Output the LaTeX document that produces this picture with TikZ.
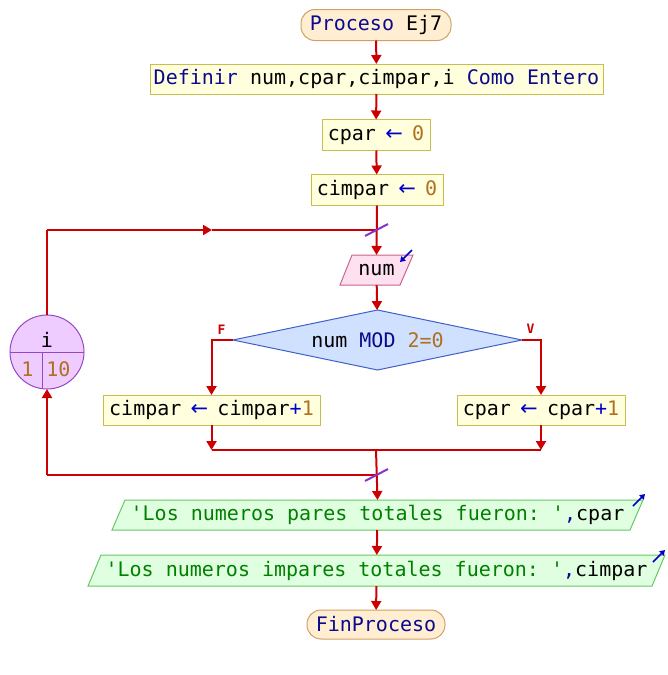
\documentclass[tikz,border=0pt]{standalone}
\usepackage{fontspec}
\setmonofont{DejaVu Sans Mono}
\newfontfamily\arrowfont{DejaVu Sans}
\usetikzlibrary{arrows.meta,shapes.geometric}
\definecolor{flowred}{RGB}{204,0,0}
\definecolor{kwnavy}{RGB}{10,10,140}
\definecolor{opblue}{RGB}{0,0,200}
\definecolor{numbrown}{RGB}{176,112,32}
\definecolor{strgreen}{RGB}{0,128,0}
\definecolor{termfill}{RGB}{255,238,210}
\definecolor{termdraw}{RGB}{210,160,100}
\definecolor{procfill}{RGB}{255,255,221}
\definecolor{procdraw}{RGB}{200,190,80}
\definecolor{inpfill}{RGB}{255,224,240}
\definecolor{inpdraw}{RGB}{200,100,140}
\definecolor{decfill}{RGB}{208,224,255}
\definecolor{decdraw}{RGB}{64,96,200}
\definecolor{forfill}{RGB}{238,204,255}
\definecolor{fordraw}{RGB}{150,70,200}
\definecolor{outfill}{RGB}{224,255,224}
\definecolor{outdraw}{RGB}{100,200,100}
\definecolor{slash}{RGB}{136,51,204}
\newcommand{\asg}{\textcolor{opblue}{\makebox[12pt]{\arrowfont\fontsize{21}{22}\selectfont ←}}}
\begin{document}
\begin{tikzpicture}[x=1pt,y=-1pt,
  font=\ttfamily\fontsize{20}{22}\selectfont,
  every node/.style={inner sep=0pt, outer sep=0pt},
  term/.style={draw=termdraw, fill=termfill, rounded corners=14pt, line width=1pt},
  proc/.style={draw=procdraw, fill=procfill, line width=1pt},
  txt/.style={},
  flow/.style={draw=flowred, line width=2pt},
  flowarr/.style={flow, -{Triangle[width=10pt,length=9pt]}},
  slashmark/.style={draw=slash, line width=2pt},
  icon/.style={draw=opblue, line width=1.6pt, -{Triangle[width=6pt,length=5pt]}},
  lbl/.style={text=flowred, font=\ttfamily\bfseries\fontsize{13}{14}\selectfont}
]
\useasboundingbox (0,0) rectangle (668,675);

% shapes drawn directly (parallelograms)
\draw[draw=inpdraw, fill=inpfill, line width=1pt] (352,255) -- (413,255) -- (400,285) -- (340,285) -- cycle;
\draw[draw=outdraw, fill=outfill, line width=1pt] (125,500) -- (643,500) -- (630,530) -- (112,530) -- cycle;
\draw[draw=outdraw, fill=outfill, line width=1pt] (101,555) -- (665,555) -- (652,586) -- (88,586) -- cycle;

% nodes
\node[term, minimum width=150pt, minimum height=31pt] (start) at (376,25) {\textcolor{kwnavy}{Proceso} Ej7};
\node[proc, minimum width=453pt, minimum height=30pt] (def) at (376.5,79) {\textcolor{kwnavy}{Definir} num,cpar,cimpar,i \textcolor{kwnavy}{Como Entero}};
\node[proc, minimum width=108pt, minimum height=31pt] (c1) at (376,135) {cpar \asg{} \textcolor{numbrown}{0}};
\node[proc, minimum width=132pt, minimum height=31pt] (c2) at (377,190) {cimpar \asg{} \textcolor{numbrown}{0}};
\node[txt, minimum width=60pt, minimum height=30pt] (num) at (376.5,270) {num};
\node[diamond, draw=decdraw, fill=decfill, line width=1pt, aspect=4.8, minimum width=289pt, minimum height=60pt] (cond) at (377.5,340) {num \textcolor{kwnavy}{MOD} \textcolor{numbrown}{2=0}};
\node[proc, minimum width=217pt, minimum height=30pt] (a1) at (211.5,410) {cimpar \asg{} cimpar\textcolor{opblue}{+}\textcolor{numbrown}{1}};
\node[proc, minimum width=168pt, minimum height=30pt] (a2) at (541,410) {cpar \asg{} cpar\textcolor{opblue}{+}\textcolor{numbrown}{1}};
\node[circle, draw=fordraw, fill=forfill, line width=1pt, minimum size=74pt] (loop) at (47,352) {};
\node[txt, minimum width=518pt, minimum height=30pt] (out1) at (377.5,515) {\textcolor{strgreen}{'Los numeros pares totales fueron: '}\textcolor{kwnavy}{,}cpar};
\node[txt, minimum width=564pt, minimum height=31pt] (out2) at (376.5,570.5) {\textcolor{strgreen}{'Los numeros impares totales fueron: '}\textcolor{kwnavy}{,}cimpar};
\node[term, minimum width=138pt, minimum height=29pt] (fin) at (376,624.5) {\textcolor{kwnavy}{FinProceso}};

% loop circle contents
\draw[draw=fordraw, line width=1pt] (loop.west) -- (loop.east);
\coordinate (divtop) at (42,352);
\coordinate (divbot) at (42,388.6);
\draw[draw=fordraw, line width=1pt] (divtop) -- (divbot);
\node[txt] (lvar) at (47,340) {i};
\node[txt, text=numbrown] (lfrom) at (27.5,369) {1};
\node[txt, text=numbrown] (lto) at (58.5,369) {10};

% coordinates
\coordinate (jtop) at (376,230);
\coordinate (loopTL) at (47,230);
\coordinate (midarr) at (212,230);
\coordinate (fL) at (211.5,340);
\coordinate (fR) at (541,340);
\coordinate (mL) at (211.5,450);
\coordinate (mR) at (541,450);
\coordinate (mC) at (376,450);
\coordinate (lC) at (376,475);
\coordinate (lL) at (47,475);

% connectors
\draw[flowarr] (start) -- (def);
\draw[flowarr] (def) -- (c1);
\draw[flowarr] (c1) -- (c2);
\draw[flowarr] (c2.south) -- (num.north);
\draw[flowarr] (num) -- (cond);
\draw[flowarr] (cond.west) -- (fL) -- (a1.north);
\draw[flowarr] (cond.east) -- (fR) -- (a2.north);
\draw[flowarr] (a1.south) -- (mL);
\draw[flowarr] (a2.south) -- (mR);
\draw[flow] (mL) -- (mR);
\draw[flowarr] (mC) -- (out1.north);
\draw[flow] (lC) -- (lL);
\draw[flowarr] (lL) -- (loop.south);
\draw[flow] (loop.north) -- (loopTL);
\draw[flowarr] (loopTL) -- (midarr);
\draw[flow] (midarr) -- (jtop);
\draw[flowarr] (out1) -- (out2);
\draw[flowarr] (out2) -- (fin);

% labels F / V
\node[lbl] (lf) at (221.5,330) {F};
\node[lbl] (lv) at (530.5,329) {V};

% slash marks on join points
\coordinate (s1a) at (365,236);
\coordinate (s1b) at (388,224);
\coordinate (s2a) at (365,481);
\coordinate (s2b) at (388,469);
\draw[slashmark] (s1a) -- (s1b);
\draw[slashmark] (s2a) -- (s2b);

% input / output icons
\coordinate (i1a) at (412,250);
\coordinate (i1b) at (400,262);
\draw[icon] (i1a) -- (i1b);
\coordinate (o1a) at (633,506);
\coordinate (o1b) at (645,494);
\draw[icon] (o1a) -- (o1b);
\coordinate (o2a) at (653,562);
\coordinate (o2b) at (665,550);
\draw[icon] (o2a) -- (o2b);
\end{tikzpicture}
\end{document}
